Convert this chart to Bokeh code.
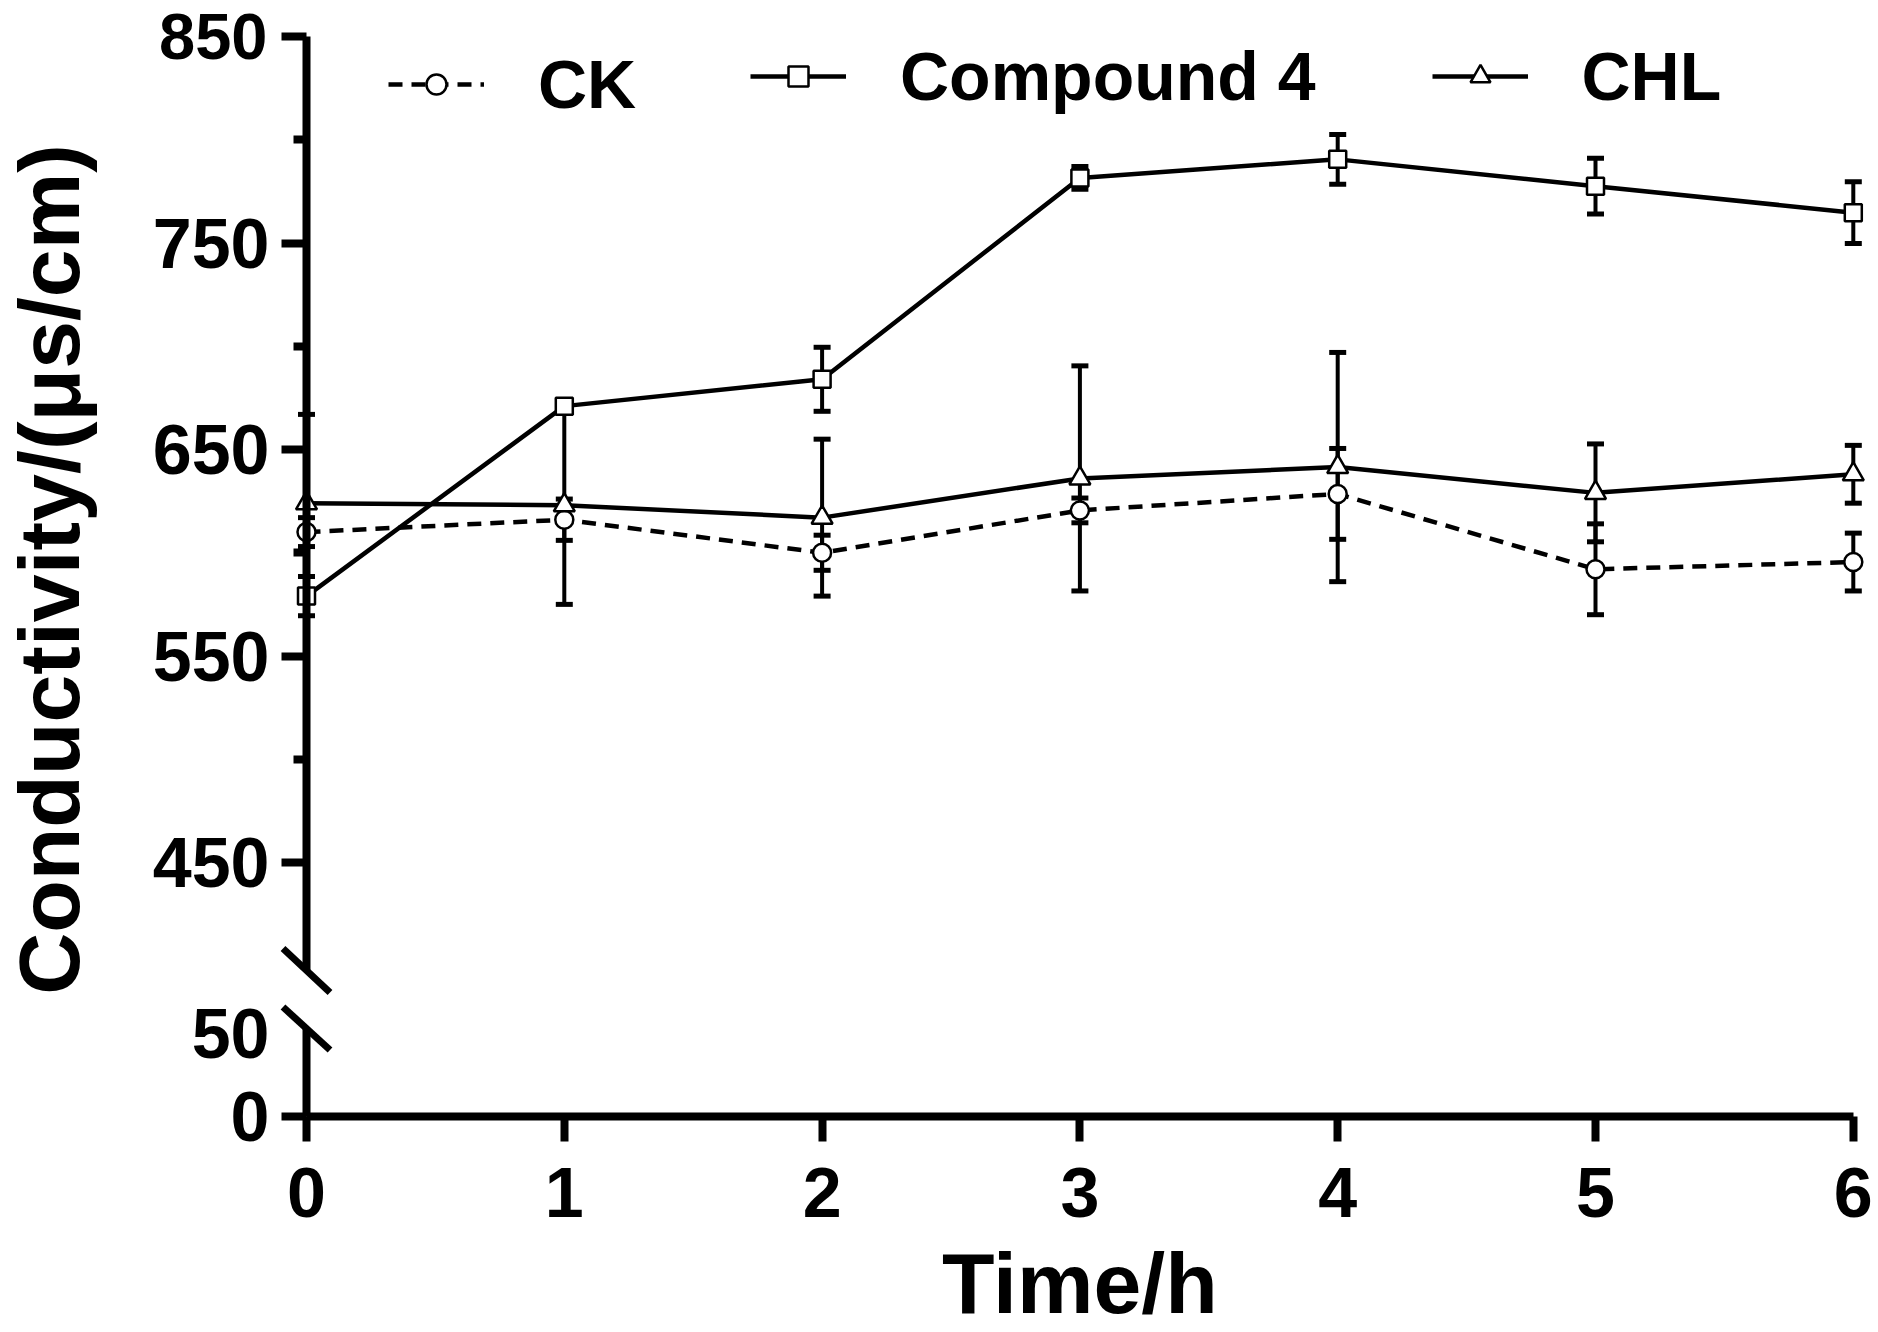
import math
from bokeh.plotting import figure
from bokeh.models import (Range1d, LinearAxis, FixedTicker, ColumnDataSource, Whisker,
                          TeeHead, Legend, LegendItem, Label)
from bokeh.embed import file_html
from bokeh.resources import INLINE

# ---------------- data ----------------
time_h = [0, 1, 2, 3, 4, 5, 6]

ck_mean = [610, 616, 600, 620.5, 628.5, 592, 595.5]
ck_sd = [7, 10, 8.5, 6, 22, 22, 14]

cmp4_mean = [579, 671, 684, 781.5, 790.5, 777.5, 764.7]
cmp4_sd = [9.5, 3, 15.5, 5.5, 12, 13.5, 15]

chl_mean = [624, 623, 617, 636, 641.5, 629, 638]
chl_sd = [43, 48, 38, 54.5, 55.5, 23.7, 14]

series_names = ["CK", "Compound 4", "CHL"]
x_ticks = [0, 1, 2, 3, 4, 5, 6]
upper_ticks = [450, 550, 650, 750]
top_tick = [850]
upper_minor = [500, 600, 700, 800]
lower_tick_marked = [0]
lower_tick_label_only = [50]
x_title = "Time/h"
y_title = "Conductivity/(μs/cm)"

# ---------------- geometry (pixels of the 1878x1332 page) ----------------
FONT = "Liberation Sans"
W, H = 1878, 1332
X0_PX = 306.0         # page x of hour 0
PX_X = 257.8          # px per hour
TOP_PX = 36.0         # page y of 850
PX_UP = 2.065         # px per unit, upper segment
BASE_PX = 1116.0      # page y of 0 (lower segment / x axis)
PX_LO = 1.66          # px per unit, lower segment

x_start = -X0_PX / PX_X
x_end = (W - X0_PX) / PX_X
up_top = 850
up_end = up_top + TOP_PX / PX_UP
up_start = up_top - (H - TOP_PX) / PX_UP
lo_start = -(H - BASE_PX) / PX_LO
lo_end = BASE_PX / PX_LO
x_axis_at = up_top - (BASE_PX - TOP_PX) / PX_UP   # upper-range value at the x axis
up_bound_low = 397.7
lo_bound_high = 53

p = figure(width=W, height=H, x_range=Range1d(x_start, x_end),
           y_range=Range1d(up_start, up_end),
           output_backend="svg", toolbar_location=None,
           min_border_left=0, min_border_right=0, min_border_top=0,
           min_border_bottom=0, outline_line_color=None,
           background_fill_color="white", border_fill_color="white")
p.extra_y_ranges = {"low": Range1d(lo_start, lo_end)}
p.grid.visible = False


def style_axis(ax, size="70px"):
    ax.axis_line_width = 8
    ax.axis_line_color = "black"
    ax.major_tick_line_width = 8
    ax.major_tick_line_color = "black"
    ax.major_tick_out = 25
    ax.major_tick_in = 0
    ax.minor_tick_line_width = 8
    ax.minor_tick_line_color = "black"
    ax.minor_tick_out = 13
    ax.minor_tick_in = 0
    ax.major_label_text_font = FONT
    ax.major_label_text_font_style = "bold"
    ax.major_label_text_font_size = size
    ax.major_label_text_color = "black"


# x axis
xa = p.xaxis[0]
style_axis(xa)
xa.fixed_location = x_axis_at
xa.ticker = FixedTicker(ticks=x_ticks, minor_ticks=[])
xa.bounds = (0, 6)
xa.major_label_standoff = 26

# upper y axis
ya = p.yaxis[0]
style_axis(ya)
ya.fixed_location = 0
ya.bounds = (up_bound_low, up_top)
ya.ticker = FixedTicker(ticks=upper_ticks, minor_ticks=upper_minor)
ya.major_label_standoff = 12

# top tick 850 (slightly smaller label so it stays inside the page)
yt = LinearAxis(fixed_location=0, bounds=(up_bound_low, up_top),
                ticker=FixedTicker(ticks=top_tick, minor_ticks=[]))
style_axis(yt, size="65px")
yt.axis_line_color = None
yt.major_label_standoff = 14
p.add_layout(yt, "left")

# lower y axis (tick at 0)
la = LinearAxis(y_range_name="low", fixed_location=0, bounds=(0, lo_bound_high),
                ticker=FixedTicker(ticks=lower_tick_marked, minor_ticks=[]))
style_axis(la)
la.major_label_standoff = 12
p.add_layout(la, "left")

# lower y axis label "50" (its tick is hidden by the break, as in the original)
lb = LinearAxis(y_range_name="low", fixed_location=0, bounds=(0, lo_bound_high),
                ticker=FixedTicker(ticks=lower_tick_label_only, minor_ticks=[]))
style_axis(lb)
lb.axis_line_color = None
lb.major_tick_line_color = None
lb.major_tick_out = 0
lb.major_label_standoff = 37
p.add_layout(lb, "left")

# axis break marks
dx = 23.5 / PX_X
p.segment(x0=[-dx], y0=[up_bound_low + 22 / PX_UP], x1=[dx], y1=[up_bound_low - 22 / PX_UP],
          line_width=7, line_color="black", line_cap="butt")
p.segment(x0=[-dx], y0=[lo_bound_high + 21.5 / PX_LO], x1=[dx], y1=[lo_bound_high - 21.5 / PX_LO],
          line_width=7, line_color="black", line_cap="butt", y_range_name="low")

# error bars
for mean, sd in [(ck_mean, ck_sd), (cmp4_mean, cmp4_sd), (chl_mean, chl_sd)]:
    src = ColumnDataSource(dict(base=time_h,
                                upper=[m + s for m, s in zip(mean, sd)],
                                lower=[m - s for m, s in zip(mean, sd)]))
    w = Whisker(source=src, base="base", upper="upper", lower="lower", dimension="height",
                line_width=4, line_color="black", level="underlay",
                upper_head=TeeHead(size=17, line_width=5, line_color="black"),
                lower_head=TeeHead(size=17, line_width=5, line_color="black"))
    p.add_layout(w)

# lines
ck_line = p.line(time_h, ck_mean, line_color="black", line_width=4.5, line_dash="14 9")
cmp4_line = p.line(time_h, cmp4_mean, line_color="black", line_width=4.5)
chl_line = p.line(time_h, chl_mean, line_color="black", line_width=4.5)

# markers
ck_pts = p.scatter(time_h, ck_mean, marker="circle", size=18, fill_color="white",
                   line_color="black", line_width=2.5)
cmp4_pts = p.scatter(time_h, cmp4_mean, marker="square", size=17, fill_color="white",
                     line_color="black", line_width=2.5)
chl_pts = p.scatter(time_h, chl_mean, marker="triangle", size=21, fill_color="white",
                    line_color="black", line_width=2.5)


def make_legend(items, loc, spacing):
    return Legend(items=items, location=loc, orientation="horizontal",
                  glyph_width=96, glyph_height=50, label_standoff=54, spacing=spacing,
                  label_text_font=FONT, label_text_font_style="bold",
                  label_text_font_size="68px", label_text_color="black",
                  padding=0, margin=0, border_line_color=None,
                  background_fill_alpha=0)


leg1 = make_legend([LegendItem(label=series_names[0], renderers=[ck_line, ck_pts])],
                   (388, H - 122.5), 0)
leg2 = make_legend([LegendItem(label=series_names[1], renderers=[cmp4_line, cmp4_pts]),
                    LegendItem(label=series_names[2], renderers=[chl_line, chl_pts])],
                   (750, H - 114.5), 116)
p.add_layout(leg1)
p.add_layout(leg2)

# axis titles
p.add_layout(Label(x=3, y=(BASE_PX - 1282) / PX_LO, y_range_name="low", text=x_title,
                   text_align="center", text_baseline="middle",
                   text_font=FONT, text_font_style="bold", text_font_size="86px",
                   text_color="black"))
p.add_layout(Label(x=(48 - X0_PX) / PX_X, y=up_top - (569 - TOP_PX) / PX_UP, text=y_title,
                   angle=math.pi / 2, text_align="center", text_baseline="middle",
                   text_font=FONT, text_font_style="bold", text_font_size="86px",
                   text_color="black"))

open("out.html", "w").write(file_html(p, INLINE))
